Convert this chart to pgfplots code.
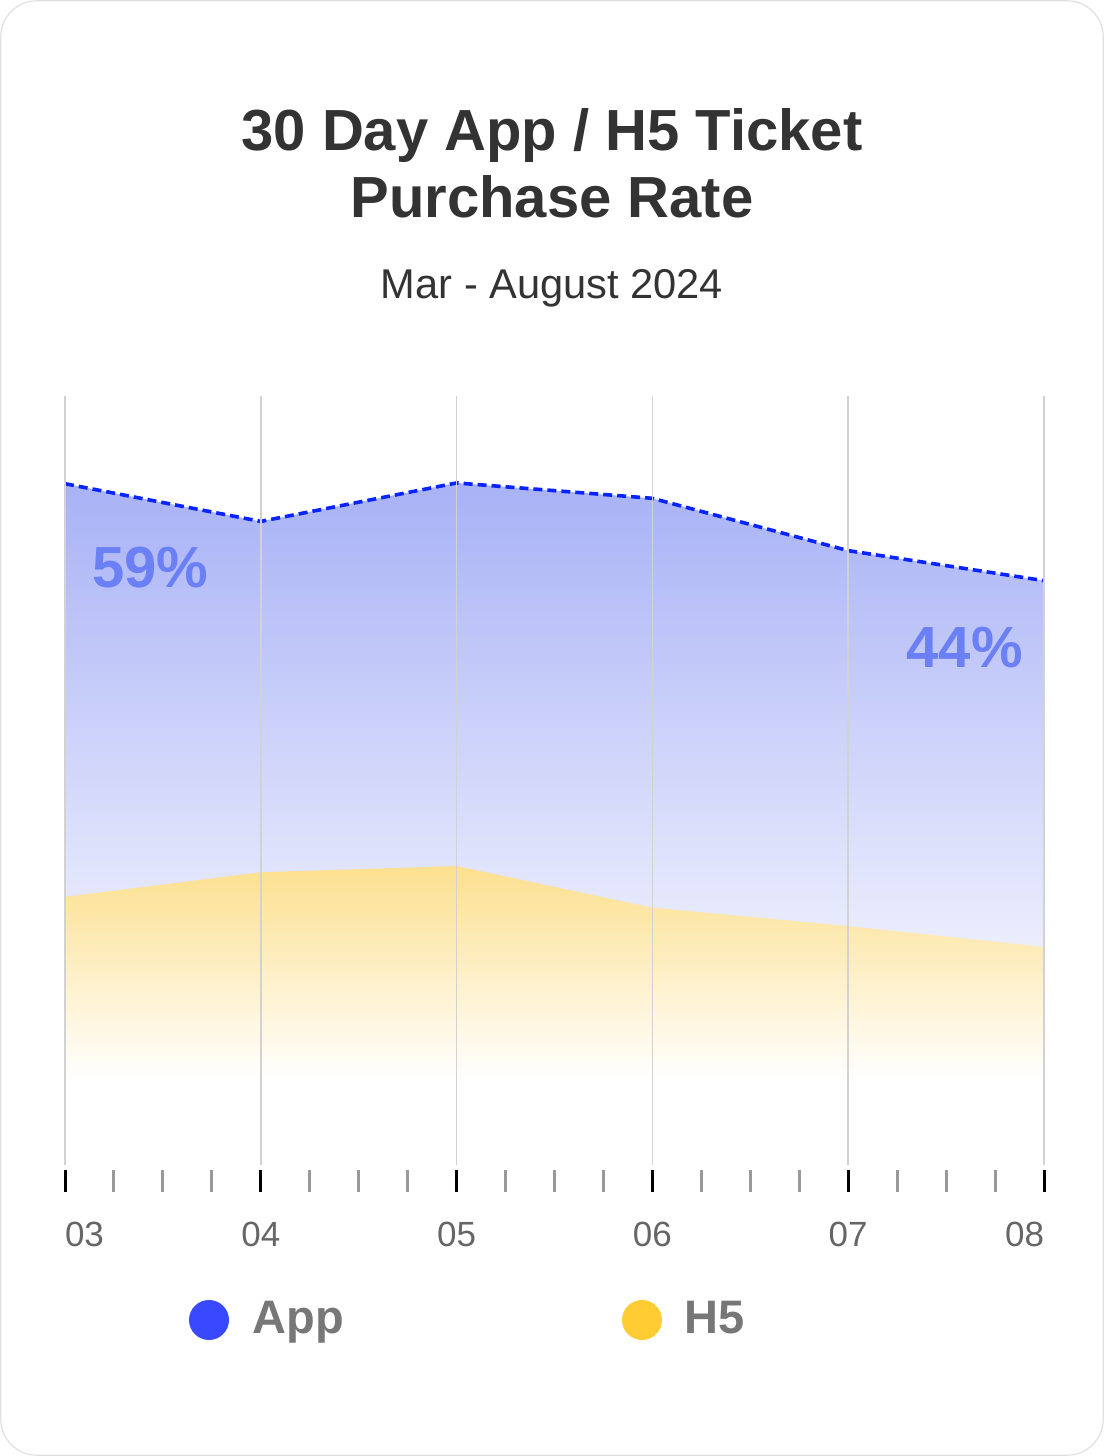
\documentclass[border=0pt]{standalone}
\usepackage{pgfplots}
\pgfplotsset{compat=1.18}
\usepackage{pgfplotstable}
\usepackage{fontspec}
\setmainfont{Liberation Sans}
\definecolor{cardborder}{HTML}{E0E0E0}
\definecolor{titlegray}{HTML}{333333}
\definecolor{appline}{HTML}{0A24FF}
\definecolor{apptop}{HTML}{A8B2F6}
\definecolor{h5top}{HTML}{FCE08F}
\definecolor{applabel}{HTML}{6B80F5}
\definecolor{legblue}{HTML}{3849FF}
\definecolor{legyellow}{HTML}{FFCC33}
\definecolor{leggray}{HTML}{777777}
\definecolor{tickgray}{HTML}{666666}
\definecolor{gridgray}{HTML}{D2D2D2}
\definecolor{minorgray}{HTML}{999999}

\pgfplotstableread{
x app h5
0 77.5 23.8
1 72.6 27.0
2 77.6 27.8
3 75.6 22.4
4 68.8 20.0
5 64.9 17.3
}\datatable

\begin{document}
\begin{tikzpicture}[x=1pt,y=1pt]
\path[use as bounding box] (0,0) rectangle (552,728);
\draw[cardborder, line width=0.6pt, rounded corners=18pt] (0.4,0.4) rectangle (551.6,727.6);
\node[font=\bfseries\fontsize{29}{33}\selectfont, text=titlegray, anchor=base] at (276,652.5) {30 Day App / H5 Ticket};
\node[font=\bfseries\fontsize{29}{33}\selectfont, text=titlegray, anchor=base] at (276,619) {Purchase Rate};
\node[font=\fontsize{20.8}{24}\selectfont, text=titlegray, anchor=base] at (276,578.5) {Mar - August 2024};

\begin{axis}[
  at={(32.5pt,145.5pt)}, anchor=south west,
  scale only axis, width=489.5pt, height=384.5pt,
  xmin=0, xmax=5, ymin=-11.05, ymax=88.9,
  axis line style={draw=none},
  ytick=\empty,
  xtick={0,1,2,3,4,5},
  xticklabels={\makebox[0pt][l]{03},04,05,06,07,\makebox[0pt][r]{08}},
  xtick pos=left,
  tick align=outside,
  minor x tick num=3,
  major tick length=11pt, minor tick length=11pt,
  major tick style={black, line width=1.5pt, yshift=-2.5pt},
  minor tick style={minorgray, line width=1.5pt, yshift=-2.5pt},
  xmajorgrids, major grid style={gridgray, line width=0.75pt},
  xticklabel style={font=\fontsize{17.5}{19}\selectfont, text=tickgray, yshift=-14pt},
  axis on top,
  clip=false,
]
\addplot[draw=none, top color=apptop, bottom color=white] table[x=x,y=app]{\datatable} \closedcycle;
\addplot[draw=none, top color=h5top, bottom color=white] table[x=x,y=h5]{\datatable} \closedcycle;
\addplot[appline, line width=1.8pt, dash pattern=on 4.5pt off 2.5pt] table[x=x,y=app]{\datatable};
\node[font=\bfseries\fontsize{29}{30}\selectfont, text=applabel, anchor=base west, inner sep=0pt] at (axis cs:0.138,64.0) {59\%};
\node[font=\bfseries\fontsize{29}{30}\selectfont, text=applabel, anchor=base east, inner sep=0pt] at (axis cs:4.893,53.6) {44\%};
\end{axis}

\fill[legblue] (104.5,68) circle (10pt);
\node[font=\bfseries\fontsize{23.5}{26}\selectfont, text=leggray, anchor=base west, inner sep=0pt] at (126,61) {App};
\fill[legyellow] (321,68) circle (10pt);
\node[font=\bfseries\fontsize{23.5}{26}\selectfont, text=leggray, anchor=base west, inner sep=0pt] at (342,61) {H5};
\end{tikzpicture}
\end{document}
